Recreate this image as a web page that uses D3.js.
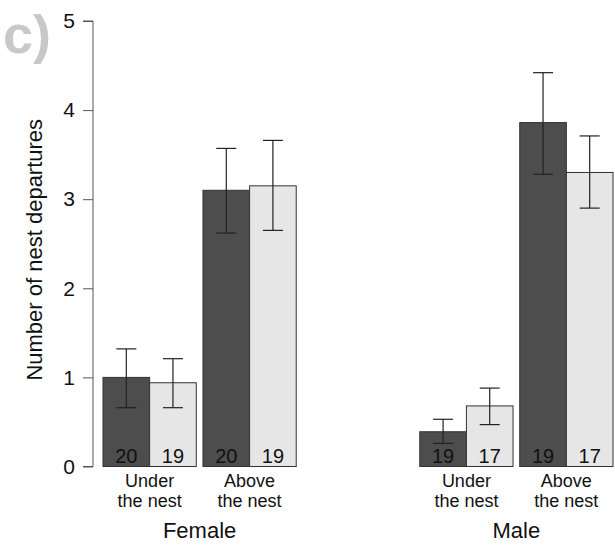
<!DOCTYPE html>
<html>
<head>
<meta charset="utf-8">
<script src="https://cdn.jsdelivr.net/npm/d3@7"></script>
<style>
  body { margin: 0; background: #fff; }
  svg { font-family: "Liberation Sans", Arial, sans-serif; }
</style>
</head>
<body>
<svg width="615" height="546"></svg>
<script>
const width = 615;
const height = 546;

// data
const sexes = ["Female", "Male"];
const locations = ["Under", "Above"];
const locationLabels = [["Under", "the nest"], ["Above", "the nest"]];
const series = ["dark", "light"];
const yTicks = [0, 1, 2, 3, 4, 5];

// values in order: Female-Under, Female-Above, Male-Under, Male-Above
const darkMean  = [1.00, 3.10, 0.39, 3.86];
const darkLo    = [0.66, 2.62, 0.26, 3.28];
const darkHi    = [1.32, 3.57, 0.53, 4.42];
const darkN     = [20, 20, 19, 19];
const lightMean = [0.94, 3.15, 0.68, 3.30];
const lightLo   = [0.66, 2.65, 0.47, 2.90];
const lightHi   = [1.21, 3.66, 0.88, 3.71];
const lightN    = [19, 19, 17, 17];

const colors = { dark: "#4d4d4d", light: "#e6e6e6" };

const rows = [];
sexes.forEach((s, i) => {
    locations.forEach((l, j) => {
        const k = i * 2 + j;
        rows.push({ sex: s, loc: l, ser: "dark", mean: darkMean[k], lo: darkLo[k], hi: darkHi[k], n: darkN[k] });
        rows.push({ sex: s, loc: l, ser: "light", mean: lightMean[k], lo: lightLo[k], hi: lightHi[k], n: lightN[k] });
    });
});

const svg = d3.select("svg");

// scales
const y = d3.scaleLinear().domain([0, 5]).range([466.5, 21]);

const xSex = d3.scaleBand().domain(sexes).range([103, 613]).paddingInner(0.39);
const xLoc = d3.scaleBand().domain(locations).range([0, xSex.bandwidth()]).paddingInner(0.067);
const xSer = d3.scaleBand().domain(series).range([0, xLoc.bandwidth()]);

const xPos = d => xSex(d.sex) + xLoc(d.loc) + xSer(d.ser);

// y axis
const yAxis = svg.append("g")
    .attr("transform", "translate(93,0)")
    .call(d3.axisLeft(y).tickValues(yTicks).tickSize(10).tickPadding(8).tickFormat(d3.format("d")));
yAxis.select(".domain").attr("stroke", "#555").attr("d", `M-10,${y(5)}H0V${y(0)}H-10`);
yAxis.selectAll(".tick line").attr("stroke", "#555");
yAxis.selectAll(".tick text").attr("font-size", 21).attr("fill", "#111").attr("font-family", "Liberation Sans, Arial, sans-serif");

svg.append("text")
    .attr("transform", `translate(42,${(y(0) + y(5)) / 2 + 6}) rotate(-90)`)
    .attr("text-anchor", "middle")
    .attr("font-size", 22)
    .attr("fill", "#111")
    .text("Number of nest departures");

// bars
svg.selectAll("rect.bar")
    .data(rows)
    .enter().append("rect")
    .attr("class", "bar")
    .attr("x", d => xPos(d))
    .attr("y", d => y(d.mean))
    .attr("width", xSer.bandwidth())
    .attr("height", d => y(0) - y(d.mean))
    .attr("fill", d => colors[d.ser])
    .attr("stroke", "#333")
    .attr("stroke-width", 1);

// error bars
const err = svg.selectAll("g.err")
    .data(rows)
    .enter().append("g")
    .attr("class", "err")
    .attr("stroke", "#222")
    .attr("stroke-width", 1.2);

const cx = d => xPos(d) + xSer.bandwidth() / 2;
err.append("line").attr("x1", cx).attr("x2", cx).attr("y1", d => y(d.lo)).attr("y2", d => y(d.hi));
err.append("line").attr("x1", d => cx(d) - 10).attr("x2", d => cx(d) + 10).attr("y1", d => y(d.lo)).attr("y2", d => y(d.lo));
err.append("line").attr("x1", d => cx(d) - 10).attr("x2", d => cx(d) + 10).attr("y1", d => y(d.hi)).attr("y2", d => y(d.hi));

// sample sizes
svg.selectAll("text.n")
    .data(rows)
    .enter().append("text")
    .attr("class", "n")
    .attr("x", cx)
    .attr("y", y(0) - 4)
    .attr("text-anchor", "middle")
    .attr("font-size", 20)
    .attr("fill", "#111")
    .text(d => d.n);

// location labels
sexes.forEach(s => {
    locations.forEach((l, j) => {
        const t = svg.append("text")
            .attr("text-anchor", "middle")
            .attr("font-size", 18)
            .attr("fill", "#111");
        const mid = xSex(s) + xLoc(l) + xLoc.bandwidth() / 2;
        locationLabels[j].forEach((line, li) => {
            t.append("tspan").attr("x", mid).attr("y", 487 + li * 20).text(line);
        });
    });
    svg.append("text")
        .attr("x", xSex(s) + xSex.bandwidth() / 2)
        .attr("y", 538)
        .attr("text-anchor", "middle")
        .attr("font-size", 22)
        .attr("fill", "#111")
        .text(s);
});

// panel letter
svg.append("text")
    .attr("x", 3)
    .attr("y", 53)
    .attr("font-size", 54)
    .attr("font-weight", "bold")
    .attr("fill", "#c8c8c8")
    .text("c)");
</script>
</body>
</html>
